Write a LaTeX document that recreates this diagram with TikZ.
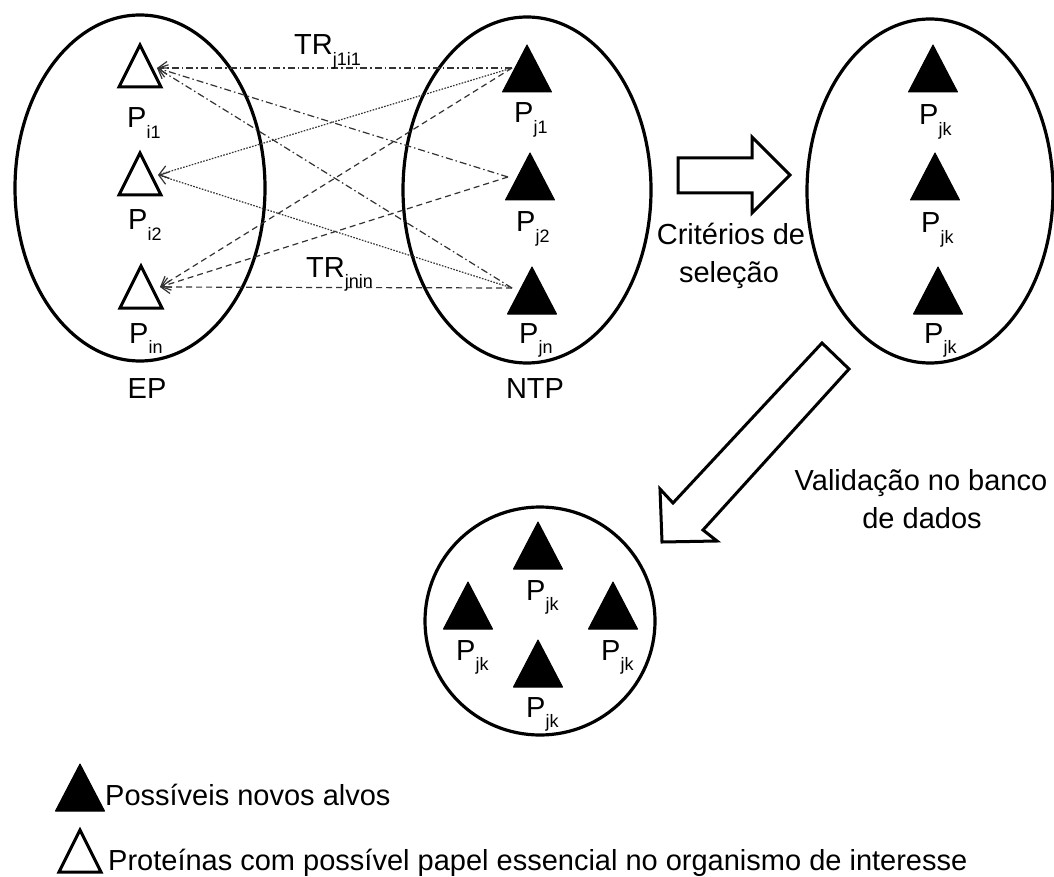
\documentclass[tikz,border=0pt]{standalone}
\usepackage{fontspec}
\setmainfont{Liberation Sans}
\usetikzlibrary{arrows.meta,shapes.geometric}
\newcommand\Sbx[1]{\raisebox{-0.36em}{\fontsize{18}{18}\selectfont #1}}
\begin{document}
\begin{tikzpicture}[x=1pt,y=-1pt,
  every node/.style={font=\fontsize{29}{34}\selectfont, inner sep=0pt},
  plabel/.style={anchor=base west},
  ctext/.style={anchor=base},
  ell/.style={draw, line width=3.2pt, ellipse, inner sep=0pt},
  otri/.style={draw, line width=3pt, fill=white, line join=miter},
  ftri/.style={fill=black, draw=black, line width=1pt, line join=round},
  link/.style={draw=black!80, line width=1.2pt, -{Straight Barb[length=9pt,width=13pt]}},
  toione/.style={link, dash pattern=on 7pt off 3pt on 1.5pt off 3pt},
  toitwo/.style={link, dash pattern=on 1.6pt off 1.4pt},
  toin/.style={link, dash pattern=on 6pt off 4pt},
  blockarrow/.style={draw, line width=3pt, fill=white, line join=miter},
  otrishape/.pic={\path[pic actions] (0,0) -- (-21,42) -- (21,42) -- cycle;},
  ftrishape/.pic={\path[pic actions] (0,0) -- (-24.5,47) -- (24.5,47) -- cycle;}
]
\useasboundingbox (0,0) rectangle (1054,877);

% ellipses
\node[ell, minimum width=250pt, minimum height=346pt] (EP) at (140,188) {};
\node[ell, minimum width=248pt, minimum height=346pt] (NTP) at (527,190) {};
\node[ell, minimum width=246pt, minimum height=344pt] (SEL) at (930,191) {};
\node[ell, minimum width=230pt, minimum height=228pt] (VAL) at (540,621) {};

% connector end points
\coordinate (i1) at (157,68);
\coordinate (i2) at (158,175);
\coordinate (in) at (160,287);
\coordinate (j1) at (512,68);
\coordinate (j2) at (508,177);
\coordinate (jn) at (512,288);

% connectors
\draw[toione] (j1) -- (i1);
\draw[toione] (j2) -- (i1);
\draw[toione] (jn) -- (i1);
\draw[toitwo] (j1) -- (i2);
\draw[toitwo] (jn) -- (i2);
\draw[toin] (j1) -- (in);
\draw[toin] (j2) -- (in);
\draw[toin] (jn) -- (in);

% EP triangles
\pic[otri] (ti1) at (140,45) {otrishape};
\pic[otri] (ti2) at (140,153) {otrishape};
\pic[otri] (tin) at (141,266) {otrishape};
% NTP triangles
\pic[ftri] (tj1) at (527,45) {ftrishape};
\pic[ftri] (tj2) at (530,153) {ftrishape};
\pic[ftri] (tjn) at (532,267) {ftrishape};
% selected triangles
\pic[ftri] (tk1) at (933,45) {ftrishape};
\pic[ftri] (tk2) at (935,153) {ftrishape};
\pic[ftri] (tk3) at (938,267) {ftrishape};
% validated triangles
\pic[ftri] (tv1) at (538,522) {ftrishape};
\pic[ftri] (tv2) at (468,582) {ftrishape};
\pic[ftri] (tv3) at (613,582) {ftrishape};
\pic[ftri] (tv4) at (538,640) {ftrishape};

% labels
\node[plabel] (lpi1) at (127,128) {P\Sbx{i1}};
\node[plabel] (lpi2) at (128,230) {P\Sbx{i2}};
\node[plabel] (lpin) at (129,343) {P\Sbx{in}};
\node[plabel] (lpj1) at (514,123) {P\Sbx{j1}};
\node[plabel] (lpj2) at (516,232) {P\Sbx{j2}};
\node[plabel] (lpjn) at (519,343) {P\Sbx{jn}};
\node[plabel] (lk1) at (919,125) {P\Sbx{jk}};
\node[plabel] (lk2) at (921,233) {P\Sbx{jk}};
\node[plabel] (lk3) at (924,343) {P\Sbx{jk}};
\node[plabel] (lv1) at (526,600) {P\Sbx{jk}};
\node[plabel] (lv2) at (456,660) {P\Sbx{jk}};
\node[plabel] (lv3) at (601,660) {P\Sbx{jk}};
\node[plabel] (lv4) at (526,717) {P\Sbx{jk}};

\node[anchor=base west] (tr1) at (294,55) {TR\Sbx{j1i1}};
\node[anchor=base west] (trn) at (306,277) {TR\Sbx{jnin}};

\node[ctext] (lEP) at (147,398) {EP};
\node[ctext] (lNTP) at (535,398) {NTP};

% block arrow right
\draw[blockarrow] (678,158) -- (752,158) -- (752,137) -- (790,175) -- (752,213) -- (752,193) -- (678,193) -- cycle;
\node[ctext] (crit1) at (731,245) {Critérios de};
\node[ctext] (crit2) at (729,283) {seleção};

% diagonal block arrow
\draw[blockarrow] (822,343) -- (673,503) -- (660,489) -- (662,542) -- (717,541) -- (703,530) -- (849,369) -- cycle;
\node[ctext] (val1) at (921,490) {Validação no banco};
\node[ctext] (val2) at (922,528) {de dados};

% legend
\pic[ftri] (legf) at (80,764) {ftrishape};
\pic[otri] (lego) at (80,830) {otrishape};
\node[anchor=base west] (leg1) at (105,805) {Possíveis novos alvos};
\node[anchor=base west] (leg2) at (108,870) {Proteínas com possível papel essencial no organismo de interesse};
\end{tikzpicture}
\end{document}
